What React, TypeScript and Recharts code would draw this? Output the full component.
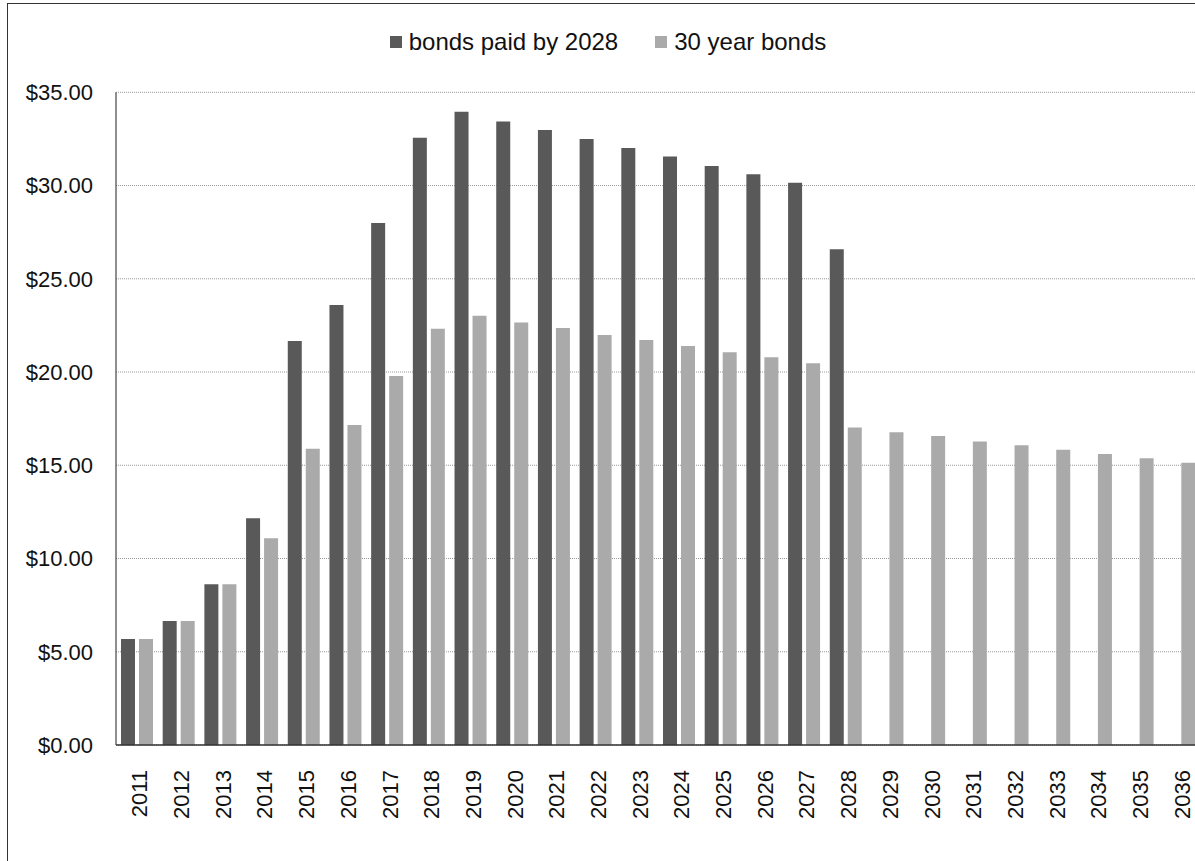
import React from 'react';
import { BarChart, Bar, XAxis, YAxis, CartesianGrid, Legend } from 'recharts';

const years = [
  '2011', '2012', '2013', '2014', '2015', '2016', '2017', '2018', '2019',
  '2020', '2021', '2022', '2023', '2024', '2025', '2026', '2027', '2028',
  '2029', '2030', '2031', '2032', '2033', '2034', '2035', '2036',
];

// bonds retired by 2028 (nothing after 2028)
const paidBy2028 = [
  5.68, 6.65, 8.62, 12.16, 21.66, 23.59, 27.99, 32.56, 33.96,
  33.44, 32.98, 32.49, 32.01, 31.56, 31.05, 30.6, 30.15, 26.58,
  0, 0, 0, 0, 0, 0, 0, 0,
];

const thirtyYear = [
  5.68, 6.65, 8.62, 11.08, 15.89, 17.16, 19.79, 22.32, 23.02,
  22.66, 22.36, 21.98, 21.72, 21.39, 21.06, 20.79, 20.47, 17.03,
  16.77, 16.57, 16.28, 16.07, 15.83, 15.6, 15.37, 15.14,
];

const yTicks = [0, 5, 10, 15, 20, 25, 30, 35];

const seriesOrder = ['paidBy2028', 'thirtyYear'];

const data = years.map((year, i) => ({
  year,
  paidBy2028: paidBy2028[i],
  thirtyYear: thirtyYear[i],
}));

const FONT = '"Liberation Sans", Arial, Helvetica, sans-serif';
const DARK = '#595959';
const LIGHT = '#aaaaaa';

function YearTick({ x, y, payload }: any) {
  const cx = x + 3;
  return (
    <text
      x={cx}
      y={y}
      transform={`rotate(-90, ${cx}, ${y})`}
      textAnchor="end"
      dominantBaseline="central"
      fontSize={22}
      fontFamily={FONT}
      fill="#111"
    >
      {payload.value}
    </text>
  );
}

function LegendContent({ payload }: any) {
  const items = [...(payload || [])].sort(
    (a: any, b: any) => seriesOrder.indexOf(a.dataKey) - seriesOrder.indexOf(b.dataKey)
  );
  return (
    <div
      style={{
        display: 'flex',
        justifyContent: 'center',
        fontFamily: FONT,
        fontSize: 24,
        lineHeight: '28px',
        color: '#111',
      }}
    >
      {items.map((entry: any, i: number) => (
        <span
          key={entry.value}
          style={{ display: 'inline-flex', alignItems: 'center', marginLeft: i ? 37 : 0 }}
        >
          <span
            style={{
              display: 'inline-block',
              width: 12,
              height: 12,
              background: entry.color,
              marginRight: 7,
            }}
          />
          {entry.value}
        </span>
      ))}
    </div>
  );
}

export default function App() {
  return (
    <div
      style={{
        position: 'absolute',
        left: 0,
        top: 0,
        width: 1195,
        height: 861,
        overflow: 'hidden',
        background: '#fff',
      }}
    >
      <div
        style={{
          position: 'absolute',
          left: 7,
          top: 3,
          width: 1400,
          height: 1000,
          borderLeft: '1.5px solid #333',
          borderTop: '1.5px solid #333',
        }}
      />
      <BarChart
        width={1210}
        height={861}
        data={data}
        margin={{ top: 28, right: 10, bottom: 0, left: 16 }}
        barGap={4}
        style={{ position: 'absolute', left: 0, top: 0 }}
      >
        <CartesianGrid vertical={false} stroke="#999" strokeDasharray="1 1" />
        <Legend verticalAlign="top" height={64.3} content={<LegendContent />} />
        <XAxis
          dataKey="year"
          interval={0}
          height={116}
          tickSize={0}
          tickMargin={25}
          tick={<YearTick />}
          axisLine={{ stroke: '#333', strokeWidth: 1.5 }}
        />
        <YAxis
          width={100}
          domain={[0, 35]}
          ticks={yTicks}
          tickSize={0}
          tickMargin={23}
          tickFormatter={(v: number) => `$${v.toFixed(2)}`}
          tick={{ fill: '#111', fontSize: 22, fontFamily: FONT }}
          axisLine={{ stroke: '#444', strokeWidth: 1.2 }}
        />
        <Bar
          dataKey="paidBy2028"
          name="bonds paid by 2028"
          fill={DARK}
          barSize={14}
          isAnimationActive={false}
        />
        <Bar
          dataKey="thirtyYear"
          name="30 year bonds"
          fill={LIGHT}
          barSize={14}
          isAnimationActive={false}
        />
      </BarChart>
    </div>
  );
}
